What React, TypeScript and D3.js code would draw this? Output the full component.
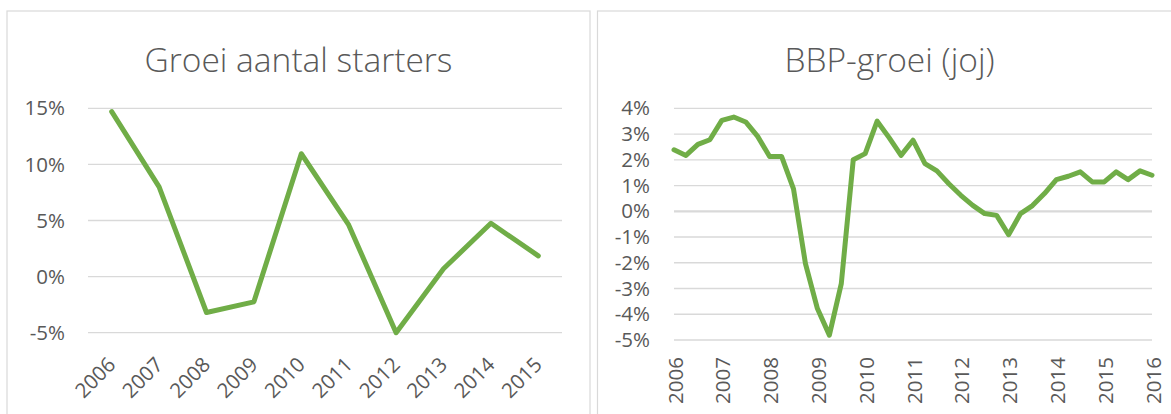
import React from 'react';
import * as d3 from 'd3';

// ---- Data ----
const starterYears = ['2006', '2007', '2008', '2009', '2010', '2011', '2012', '2013', '2014', '2015'];
const starterGrowth = [14.7, 8.0, -3.2, -2.25, 10.95, 4.6, -5.0, 0.7, 4.75, 1.85];
const starterTicks = [-5, 0, 5, 10, 15];

const gdpQuarters = [
  '2006Q1', '2006Q2', '2006Q3', '2006Q4', '2007Q1', '2007Q2', '2007Q3', '2007Q4',
  '2008Q1', '2008Q2', '2008Q3', '2008Q4', '2009Q1', '2009Q2', '2009Q3', '2009Q4',
  '2010Q1', '2010Q2', '2010Q3', '2010Q4', '2011Q1', '2011Q2', '2011Q3', '2011Q4',
  '2012Q1', '2012Q2', '2012Q3', '2012Q4', '2013Q1', '2013Q2', '2013Q3', '2013Q4',
  '2014Q1', '2014Q2', '2014Q3', '2014Q4', '2015Q1', '2015Q2', '2015Q3', '2015Q4',
  '2016Q1',
];
const gdpGrowth = [
  2.39, 2.17, 2.6, 2.78, 3.53, 3.66, 3.47, 2.91,
  2.13, 2.13, 0.87, -2.03, -3.78, -4.81, -2.81, 2.0,
  2.24, 3.5, 2.86, 2.17, 2.76, 1.85, 1.57, 1.07,
  0.62, 0.23, -0.09, -0.16, -0.91, -0.09, 0.22, 0.69,
  1.23, 1.36, 1.53, 1.14, 1.14, 1.53, 1.23, 1.57,
  1.40,
];
const gdpYearLabels = ['2006', '2007', '2008', '2009', '2010', '2011', '2012', '2013', '2014', '2015', '2016'];
const gdpTicks = [-5, -4, -3, -2, -1, 0, 1, 2, 3, 4];

const GREEN = '#70AD47';
const GRID = '#D9D9D9';
const TEXT = '#595959';
const FONT = '"Open Sans", "Noto Sans", sans-serif';

export default function App() {
  // Left chart scales
  const xL = d3.scaleBand<string>().domain(starterYears).range([88, 562]);
  const yL = d3.scaleLinear().domain([-5, 15]).range([332.7, 108.3]);
  const lineL = d3
    .line<number>()
    .x((_, i) => (xL(starterYears[i]) as number) + xL.bandwidth() / 2)
    .y((d) => yL(d));

  // Right chart scales
  const xR = d3.scaleLinear().domain([0, gdpQuarters.length - 1]).range([674, 1152]);
  const yR = d3.scaleLinear().domain([-5, 4]).range([340, 108.3]);
  const lineR = d3
    .line<number>()
    .x((_, i) => xR(i))
    .y((d) => yR(d));

  return (
    <svg
      width={1171}
      height={414}
      style={{ position: 'fixed', left: 0, top: 0, background: '#fff' }}
      fontFamily={FONT}
    >
      <rect x={0} y={0} width={1171} height={414} fill="#fff" />
      {/* Panels */}
      <rect x={7} y={11} width={583} height={420} fill="#fff" stroke={GRID} strokeWidth={1.2} />
      <rect x={597.5} y={11} width={600} height={420} fill="#fff" stroke={GRID} strokeWidth={1.2} />

      {/* Left chart */}
      <text x={298.5} y={72} textAnchor="middle" fontSize={33.5} fontWeight={300} fill={TEXT}>
        Groei aantal starters
      </text>
      {starterTicks.map((t) => (
        <g key={'lg' + t}>
          <line x1={88} x2={562} y1={yL(t)} y2={yL(t)} stroke={GRID} strokeWidth={1.3} />
          <text x={65} y={yL(t)} dy="0.35em" textAnchor="end" fontSize={20.5} fill={TEXT}>
            {t + '%'}
          </text>
        </g>
      ))}
      {starterYears.map((y) => {
        const cx = (xL(y) as number) + xL.bandwidth() / 2;
        return (
          <text
            key={'lx' + y}
            transform={`translate(${cx},361) rotate(-45)`}
            dy="0.35em"
            textAnchor="end"
            fontSize={20.5}
            fill={TEXT}
          >
            {y}
          </text>
        );
      })}
      <path
        d={lineL(starterGrowth) || ''}
        fill="none"
        stroke={GREEN}
        strokeWidth={5}
        strokeLinejoin="round"
        strokeLinecap="round"
      />

      {/* Right chart */}
      <text x={889.5} y={72} textAnchor="middle" fontSize={33.5} fontWeight={300} fill={TEXT}>
        BBP-groei (joj)
      </text>
      {gdpTicks.map((t) => (
        <g key={'rg' + t}>
          <line
            x1={674}
            x2={1152}
            y1={yR(t)}
            y2={yR(t)}
            stroke={GRID}
            strokeWidth={t === 0 ? 2.2 : 1.3}
          />
          <text x={650} y={yR(t)} dy="0.35em" textAnchor="end" fontSize={20.5} fill={TEXT}>
            {t + '%'}
          </text>
        </g>
      ))}
      {gdpYearLabels.map((y, k) => (
        <text
          key={'rx' + y}
          transform={`translate(${xR(k * 4) + 1.5},357) rotate(-90)`}
          dy="0.35em"
          textAnchor="end"
          fontSize={20.5}
          fill={TEXT}
        >
          {y}
        </text>
      ))}
      <path
        d={lineR(gdpGrowth) || ''}
        fill="none"
        stroke={GREEN}
        strokeWidth={5}
        strokeLinejoin="round"
        strokeLinecap="round"
      />
    </svg>
  );
}
